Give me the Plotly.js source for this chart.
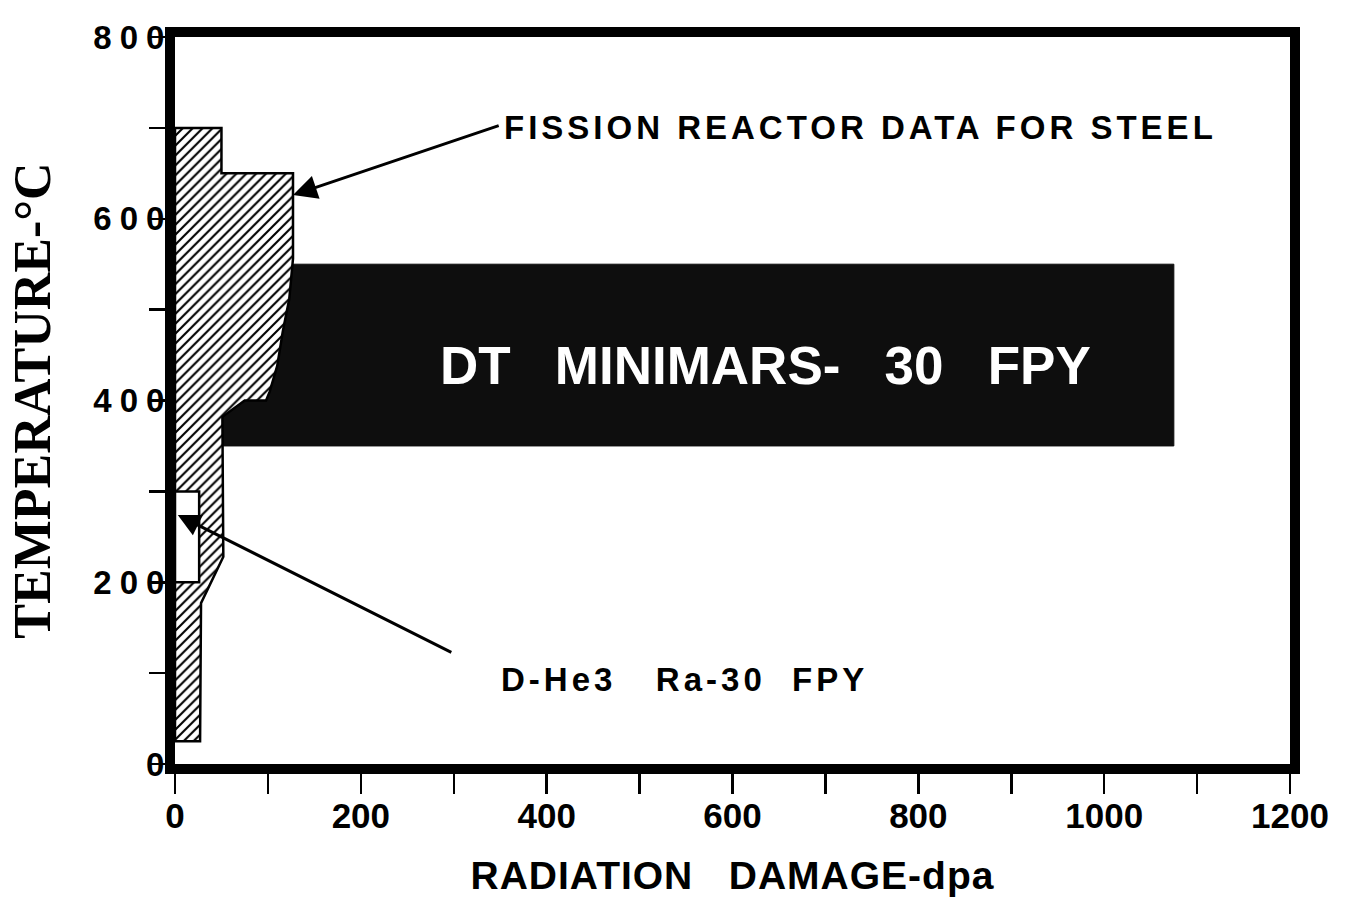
<!DOCTYPE html>
<html>
<head>
<meta charset="utf-8">
<script src="https://cdn.plot.ly/plotly-3.0.1.min.js"></script>
<style>
  html, body { margin: 0; padding: 0; background: #fff; }
  #chart { width: 1360px; height: 905px; }
  .ytick text { letter-spacing: 8px; }
  .g-xtitle text { letter-spacing: 1px; }
  g.annotation[data-index="0"] text { letter-spacing: 4px; }
  g.annotation[data-index="2"] text { letter-spacing: 4px; }
</style>
</head>
<body>
<div id="chart"></div>
<script>
// ---- data (radiation damage in dpa, temperature in °C) ----
const fissionDpa  = [0, 50, 50, 127, 127, 123, 116, 110, 102, 98, 75, 51, 52, 28, 27, 0, 0];
const fissionTemp = [700, 700, 650, 650, 556, 512, 476, 438, 410, 400, 400, 382, 228, 177, 25, 25, 700];

const minimarsDpa  = [45, 1075, 1075, 45, 45];
const minimarsTemp = [350, 350, 550, 550, 350];

const dhe3Dpa  = [0, 26, 26, 0, 0];
const dhe3Temp = [200, 200, 300, 300, 200];

const xTickVals = [0, 100, 200, 300, 400, 500, 600, 700, 800, 900, 1000, 1100, 1200];
const xTickText = ['0', '', '200', '', '400', '', '600', '', '800', '', '1000', '', '1200'];
const yTickVals = [0, 100, 200, 300, 400, 500, 600, 700, 800];
const yTickText = ['0', '', '200', '', '400', '', '600', '', '800'];

const labelFission = 'FISSION REACTOR DATA FOR STEEL';
const labelMinimars = 'DT   MINIMARS-   30   FPY';
const labelDhe3 = 'D-He3   Ra-30  FPY';

const fissionArrow = {tipX: 127, tipY: 626, tailX: 350, tailY: 703};
const dhe3Arrow = {tipX: 3, tipY: 274, tailX: 299, tailY: 122};

const SANS = 'Liberation Sans, Arial, Helvetica, sans-serif';
const SERIF = 'Liberation Serif, Times New Roman, serif';

const traces = [
  {
    x: minimarsDpa, y: minimarsTemp, type: 'scatter', mode: 'lines',
    fill: 'toself', fillcolor: '#0e0e0e', line: {color: '#0e0e0e', width: 1},
    hoverinfo: 'skip', showlegend: false
  },
  {
    x: fissionDpa, y: fissionTemp, type: 'scatter', mode: 'lines',
    fill: 'toself',
    fillpattern: {shape: '/', size: 7, solidity: 0.3, fgcolor: '#000', bgcolor: '#fff'},
    line: {color: '#000', width: 2.5},
    hoverinfo: 'skip', showlegend: false
  },
  {
    x: dhe3Dpa, y: dhe3Temp, type: 'scatter', mode: 'lines',
    fill: 'toself', fillcolor: '#fff', line: {color: '#000', width: 2.5},
    hoverinfo: 'skip', showlegend: false
  }
];

const layout = {
  width: 1360, height: 905,
  margin: {l: 175, r: 70, t: 37, b: 141, pad: 0},
  paper_bgcolor: '#fff', plot_bgcolor: '#fff',
  showlegend: false,
  xaxis: {
    range: [0, 1200], showgrid: false, zeroline: false,
    showline: true, linecolor: '#000', linewidth: 10, mirror: true,
    ticks: 'outside', ticklen: 20, tickwidth: 2.5, tickcolor: '#000',
    tickvals: xTickVals, ticktext: xTickText,
    tickfont: {family: SANS, size: 35, color: '#000', weight: 'bold'},
    ticklabelstandoff: -8,
    title: {text: 'RADIATION   DAMAGE-dpa', standoff: 32,
            font: {family: SANS, size: 39, color: '#000', weight: 'bold'}}
  },
  yaxis: {
    range: [0, 800], showgrid: false, zeroline: false,
    showline: true, linecolor: '#000', linewidth: 10, mirror: true,
    ticks: 'outside', ticklen: 16, tickwidth: 2.5, tickcolor: '#000',
    tickvals: yTickVals, ticktext: yTickText,
    tickfont: {family: SANS, size: 33, color: '#000', weight: 'bold'},
    ticklabelstandoff: -30,
    title: {text: 'TEMPERATURE-°C', standoff: 30,
            font: {family: SERIF, size: 52, color: '#000', weight: 'bold'}}
  },
  annotations: [
    {x: 738, y: 700, xref: 'x', yref: 'y', text: labelFission, showarrow: false,
     font: {family: SANS, size: 33, color: '#000', weight: 'bold'}},
    {x: 635, y: 439, xref: 'x', yref: 'y', text: labelMinimars, showarrow: false,
     font: {family: SANS, size: 53, color: '#fff', weight: 'bold'}},
    {x: 548, y: 93, xref: 'x', yref: 'y', text: labelDhe3, showarrow: false,
     font: {family: SANS, size: 33, color: '#000', weight: 'bold'}},
    {x: fissionArrow.tipX, y: fissionArrow.tipY, ax: fissionArrow.tailX, ay: fissionArrow.tailY,
     xref: 'x', yref: 'y', axref: 'x', ayref: 'y', text: '', showarrow: true,
     arrowhead: 2, arrowsize: 1.6, arrowwidth: 3, arrowcolor: '#000'},
    {x: dhe3Arrow.tipX, y: dhe3Arrow.tipY, ax: dhe3Arrow.tailX, ay: dhe3Arrow.tailY,
     xref: 'x', yref: 'y', axref: 'x', ayref: 'y', text: '', showarrow: true,
     arrowhead: 2, arrowsize: 1.5, arrowwidth: 3, arrowcolor: '#000'}
  ]
};

Plotly.newPlot('chart', traces, layout, {staticPlot: true, displayModeBar: false});
</script>
</body>
</html>
